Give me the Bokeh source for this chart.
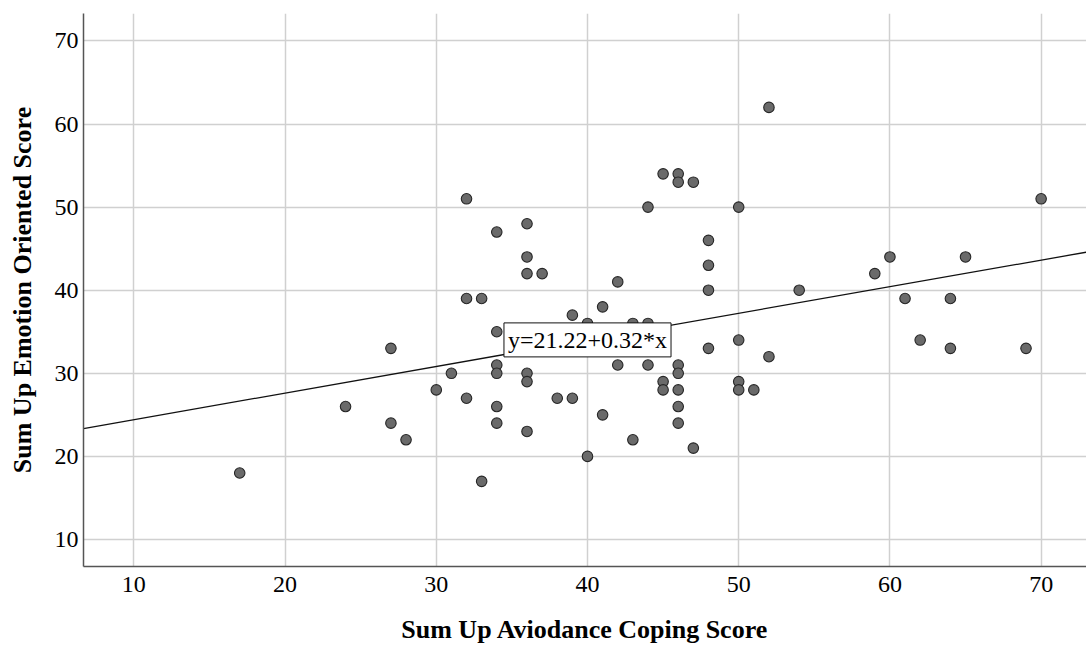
from bokeh.plotting import figure
from bokeh.models import Range1d, FixedTicker, Label, ColumnDataSource
from bokeh.embed import file_html
from bokeh.resources import INLINE

# Avoidance coping score (x) and emotion-oriented score (y) for each respondent
avoidance = [17, 24, 27, 27, 28, 30, 31, 32, 32, 32, 33, 33,
             34, 34, 34, 34, 34, 34, 36, 36, 36, 36, 36, 36,
             37, 38, 39, 39, 40, 40, 41, 41, 42, 42, 43, 43,
             44, 44, 44, 45, 45, 45, 46, 46, 46, 46, 46, 46, 46,
             47, 47, 48, 48, 48, 48, 50, 50, 50, 50, 51, 52, 52,
             54, 59, 60, 61, 62, 64, 64, 65, 69, 70]
emotion = [18, 26, 33, 24, 22, 28, 30, 51, 39, 27, 39, 17,
           47, 35, 31, 30, 26, 24, 48, 44, 42, 30, 29, 23,
           42, 27, 37, 27, 36, 20, 38, 25, 41, 31, 36, 22,
           50, 36, 31, 54, 29, 28, 54, 53, 31, 30, 28, 26, 24,
           53, 21, 46, 43, 40, 33, 50, 34, 29, 28, 28, 62, 32,
           40, 42, 44, 39, 34, 39, 33, 44, 33, 51]

# Linear fit reported on the chart
fit_intercept = 21.22
fit_slope = 0.32
fit_text = "y=21.22+0.32*x"

tick_values = [10, 20, 30, 40, 50, 60, 70]

X_MIN, X_MAX = 6.67, 73.0
Y_MIN, Y_MAX = 6.75, 73.3

SERIF = "Liberation Serif"

p = figure(width=1086, height=646, output_backend="svg", toolbar_location=None,
           x_range=Range1d(X_MIN, X_MAX), y_range=Range1d(Y_MIN, Y_MAX),
           min_border_left=83, min_border_right=0, min_border_top=13,
           min_border_bottom=79)
p.outline_line_color = None
p.background_fill_color = "white"
p.border_fill_color = "white"

for ax in (p.xaxis[0], p.yaxis[0]):
    ax.ticker = FixedTicker(ticks=tick_values)
    ax.axis_line_color = "#555555"
    ax.axis_line_width = 1.5
    ax.major_tick_in = 0
    ax.major_tick_out = 0
    ax.minor_tick_line_color = None
    ax.major_label_text_font = SERIF
    ax.major_label_text_font_size = "24px"
    ax.major_label_text_color = "#000000"
    ax.axis_label_text_font = SERIF
    ax.axis_label_text_font_style = "bold"
    ax.axis_label_text_font_size = "26px"
    ax.axis_label_text_color = "#000000"

p.xaxis.axis_label = "Sum Up Aviodance Coping Score"
p.yaxis.axis_label = "Sum Up Emotion Oriented Score"
p.xaxis.major_label_standoff = 10
p.yaxis.major_label_standoff = 5
p.xaxis.axis_label_standoff = 20
p.yaxis.axis_label_standoff = 15

p.xgrid.grid_line_color = "#d0d0d0"
p.ygrid.grid_line_color = "#d0d0d0"
p.xgrid.grid_line_width = 1.5
p.ygrid.grid_line_width = 1.5

# Fit line across the full horizontal range
line_x = [X_MIN, X_MAX]
line_y = [fit_intercept + fit_slope * v for v in line_x]
p.line(line_x, line_y, line_color="#111111", line_width=1.3)

src = ColumnDataSource(dict(x=avoidance, y=emotion))
p.scatter("x", "y", source=src, size=10.5, fill_color="#6a6a6a",
          line_color="#262626", line_width=1.1)

# Equation label sitting on the fit line
label_x = 40
p.add_layout(Label(x=label_x, y=fit_intercept + fit_slope * label_x, text=fit_text,
                   text_align="center", text_baseline="middle",
                   text_font=SERIF, text_font_size="24px", text_color="#000000",
                   background_fill_color="white", border_line_color="#111111",
                   border_line_width=1, padding=4))

open("out.html", "w").write(file_html(p, INLINE))
